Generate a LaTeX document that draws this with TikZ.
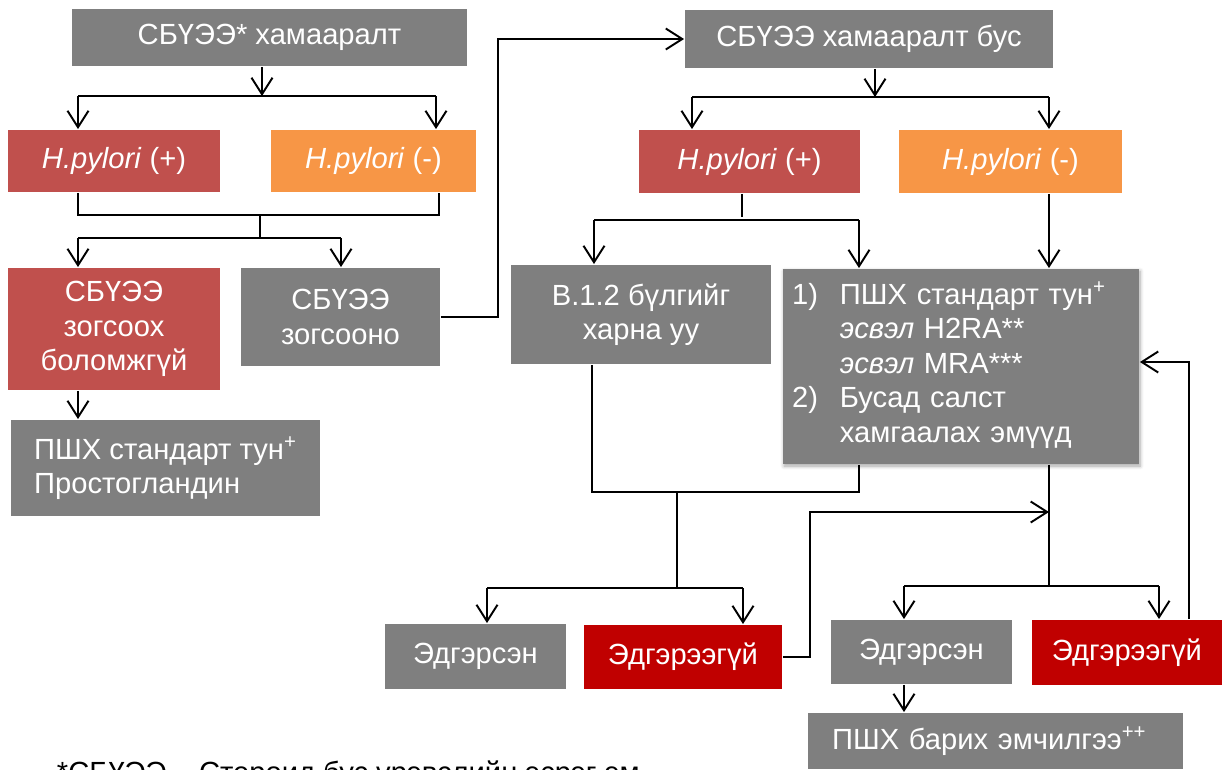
\documentclass[tikz,border=0pt]{standalone}
\usepackage{fontspec}
\setmainfont{Liberation Sans}
\usetikzlibrary{arrows.meta,shadows.blur}
\definecolor{boxgray}{HTML}{7F7F7F}
\definecolor{hpred}{HTML}{C0504D}
\definecolor{hporange}{HTML}{F79646}
\definecolor{darkred}{HTML}{C00000}

\begin{document}
\begin{tikzpicture}[x=0.02cm,y=-0.02cm,line width=1.1pt,
    box/.style={fill=boxgray,text=white,inner sep=0pt,align=center,
      font=\fontsize{16.6}{19.6}\selectfont},
    arr/.style={-{Straight Barb[length=3.3mm,width=4.2mm]}}]
    \clip (0,0) rectangle (1224,769);

    % left branch
    \node[box,minimum width=7.9cm,minimum height=1.14cm] (top1) at (269.5,37.5) {СБҮЭЭ* хамааралт};
    \node[box,fill=hpred,minimum width=4.24cm,minimum height=1.24cm] (hp1) at (114,161) {\textit{H.pylori} (+)};
    \node[box,fill=hporange,minimum width=4.1cm,minimum height=1.24cm] (hn1) at (373.5,161) {\textit{H.pylori} (-)};
    \node[box,fill=hpred,minimum width=4.24cm,minimum height=2.44cm] (stop1) at (114,329) {СБҮЭЭ\\зогсоох\\боломжгүй};
    \node[box,minimum width=3.98cm,minimum height=1.96cm] (stop2) at (340.5,317) {СБҮЭЭ\\зогсооно};
    \node[box,align=left,minimum width=6.18cm,minimum height=1.92cm] (pshx1) at (165.5,468) {ПШХ стандарт тун\textsuperscript{+}\\Простогландин};

    % right branch
    \node[box,minimum width=7.36cm,minimum height=1.16cm] (top2) at (869,39) {СБҮЭЭ хамааралт бус};
    \node[box,fill=hpred,minimum width=4.42cm,minimum height=1.26cm] (hp2) at (749.5,161.5) {\textit{H.pylori} (+)};
    \node[box,fill=hporange,minimum width=4.46cm,minimum height=1.26cm] (hn2) at (1010.5,161.5) {\textit{H.pylori} (-)};
    \node[box,minimum width=5.2cm,minimum height=1.98cm] (b12) at (641,314.5) {В.1.2 бүлгийг\\харна уу};
    \node[box,align=left,inner xsep=0.18cm,text width=6.76cm,minimum height=3.9cm,
      blur shadow={shadow blur steps=6,shadow xshift=0.6pt,shadow yshift=-1.2pt,shadow opacity=35}] (big) at (961,366.5)
      {\begin{tabular}{@{}l@{\hspace{12.5pt}}l@{}}
        1) & ПШХ стандарт тун\textsuperscript{+}\\
           & \textit{эсвэл} H2RA**\\
           & \textit{эсвэл} MRA***\\
        2) & Бусад салст\\
           & хамгаалах эмүүд
      \end{tabular}};
    \node[box,minimum width=3.62cm,minimum height=1.3cm] (edg1) at (475.5,656.5) {Эдгэрсэн};
    \node[box,fill=darkred,minimum width=3.96cm,minimum height=1.28cm] (ned1) at (683,657) {Эдгэрээгүй};
    \node[box,minimum width=3.62cm,minimum height=1.28cm] (edg2) at (921.5,652) {Эдгэрсэн};
    \node[box,fill=darkred,minimum width=3.8cm,minimum height=1.3cm] (ned2) at (1127,652.5) {Эдгэрээгүй};
    \node[box,align=left,inner xsep=0.48cm,text width=6.54cm,minimum height=1.12cm] (pshx2) at (995.5,741) {ПШХ барих эмчилгээ\textsuperscript{++}};

    % footnote, cut by the page edge
    \node[anchor=base west,inner sep=0pt,font=\fontsize{16.6}{19.6}\selectfont] (note) at (56,782) {*СБҮЭЭ – Стероид бус үрэвслийн эсрэг эм};

    % junctions
    \coordinate (j1) at (262,96);
    \coordinate (j1l) at (78,96);
    \coordinate (j1r) at (436,96);
    \coordinate (j2l) at (78,215);
    \coordinate (j2r) at (439,215);
    \coordinate (j3) at (260,238);
    \coordinate (j3l) at (78,238);
    \coordinate (j3r) at (341,238);
    \coordinate (j4) at (498,315);
    \coordinate (k1) at (875,97);
    \coordinate (k1l) at (692,97);
    \coordinate (k1r) at (1049,97);
    \coordinate (k2) at (742,217);
    \coordinate (k2l) at (594,220);
    \coordinate (k2r) at (859,220);
    \coordinate (k3l) at (592,492);
    \coordinate (k3r) at (859,492);
    \coordinate (k4) at (677,588);
    \coordinate (k4l) at (487,588);
    \coordinate (k4r) at (743,588);
    \coordinate (k5) at (1049,586);
    \coordinate (k5l) at (904,586);
    \coordinate (k5r) at (1159,586);
    \coordinate (k6) at (810,512);
    \coordinate (k7) at (1189,362);

    % left connectors
    \draw[arr] (top1.south -| j1) -- (j1);
    \draw (j1l) -- (j1r);
    \draw[arr] (j1l) -- (j1l |- hp1.north);
    \draw[arr] (j1r) -- (j1r |- hn1.north);
    \draw (hp1.south -| j2l) -- (j2l) -- (j2r) -- (hn1.south -| j2r);
    \draw (j2l -| j3) -- (j3);
    \draw (j3l) -- (j3r);
    \draw[arr] (j3l) -- (j3l |- stop1.north);
    \draw[arr] (j3r) -- (j3r |- stop2.north);
    \draw[arr] (stop1.south -| j3l) -- (j3l |- pshx1.north);
    \draw[arr] (stop2.east) -| (j4 |- top2.west) -- (top2.west);

    % right connectors
    \draw[arr] (top2.south -| k1) -- (k1);
    \draw (k1l) -- (k1r);
    \draw[arr] (k1l) -- (k1l |- hp2.north);
    \draw[arr] (k1r) -- (k1r |- hn2.north);
    \draw (hp2.south -| k2) -- (k2);
    \draw (k2l) -- (k2r);
    \draw[arr] (k2l) -- (k2l |- b12.north);
    \draw[arr] (k2r) -- (k2r |- big.north);
    \draw[arr] (hn2.south -| k1r) -- (k1r |- big.north);
    \draw (b12.south -| k3l) -- (k3l) -- (k3r) -- (big.south -| k3r);
    \draw (k4 |- k3l) -- (k4);
    \draw (k4l) -- (k4r);
    \draw[arr] (k4l) -- (k4l |- edg1.north);
    \draw[arr] (k4r) -- (k4r |- ned1.north);
    \draw (big.south -| k5) -- (k5);
    \draw (k5l) -- (k5r);
    \draw[arr] (k5l) -- (k5l |- edg2.north);
    \draw[arr] (k5r) -- (k5r |- ned2.north);
    \draw[arr] (edg2.south -| k5l) -- (k5l |- pshx2.north);
    \draw[arr] (ned1.east) -| (k6) -- (k6 -| k5);
    \draw[arr] (ned2.north -| k7) -- (k7) -- (k7 -| big.east);
\end{tikzpicture}
\end{document}
